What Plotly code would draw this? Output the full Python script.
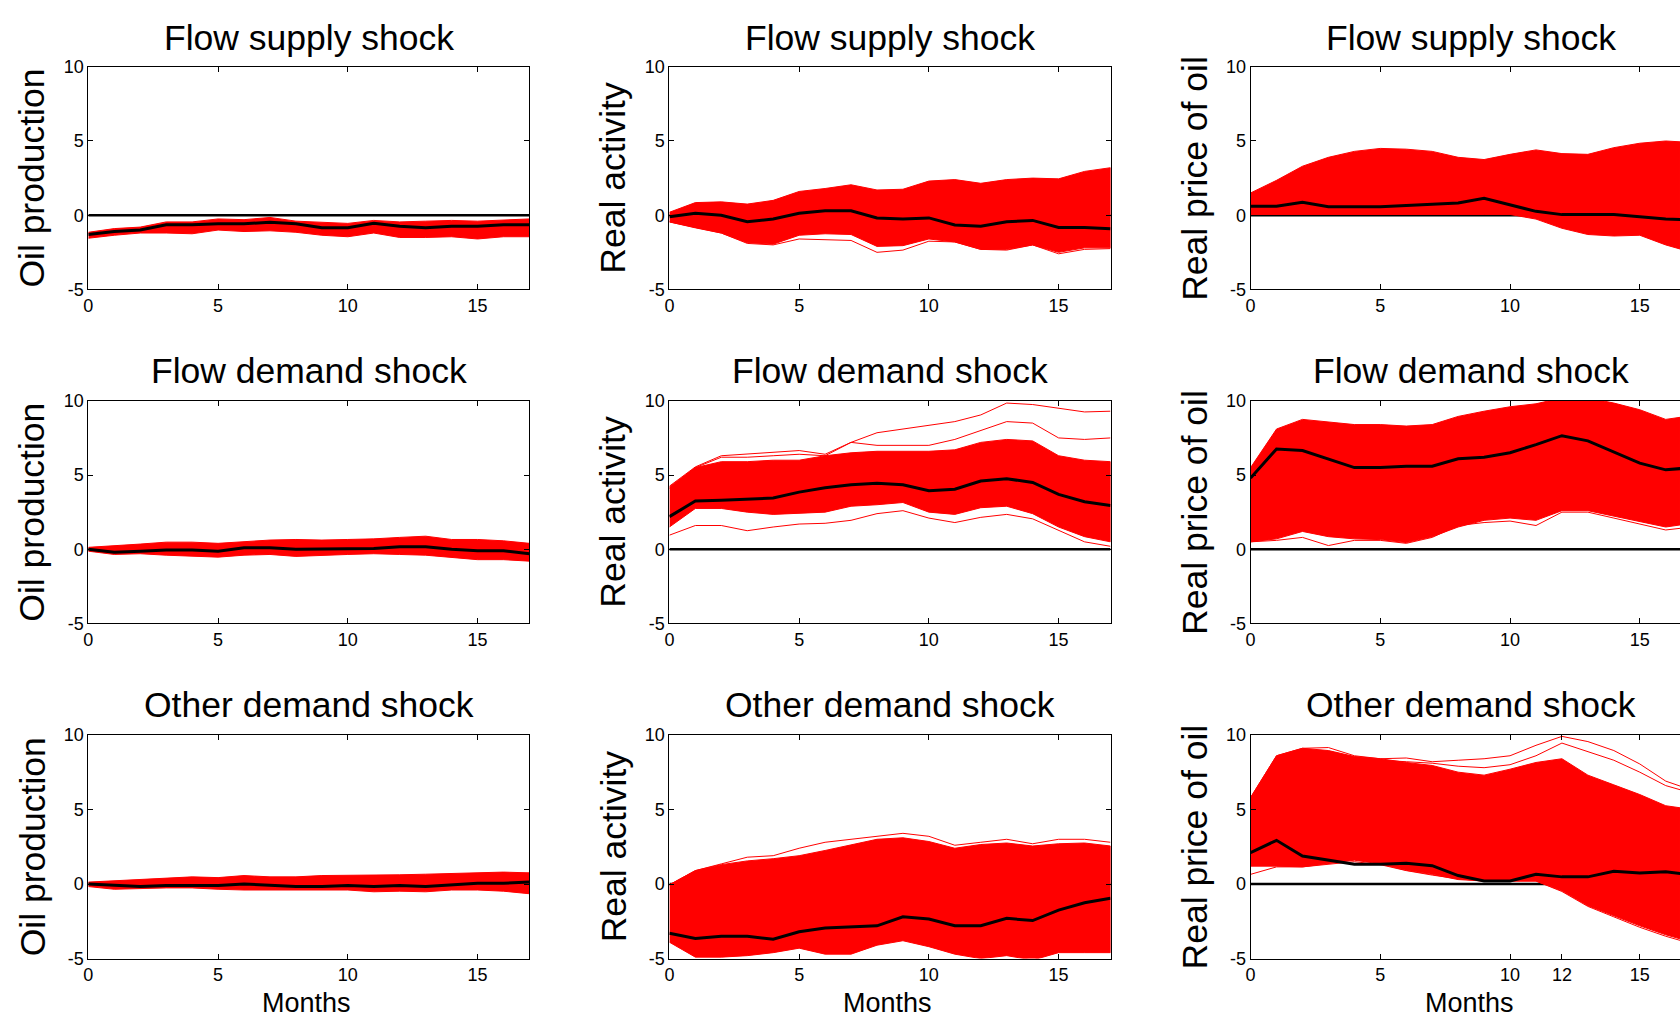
import plotly.graph_objects as go

# ---------------- data ----------------
months = list(range(18))

# Row 1: Flow supply shock
op_sup_med = [-1.3, -1.1, -1.0, -0.65, -0.65, -0.57, -0.57, -0.48, -0.57, -0.85, -0.85, -0.55, -0.75, -0.85, -0.75, -0.75, -0.64, -0.64]
op_sup_hi = [-1.15, -0.9, -0.8, -0.45, -0.45, -0.25, -0.3, -0.15, -0.4, -0.5, -0.55, -0.35, -0.45, -0.4, -0.35, -0.4, -0.35, -0.25]
op_sup_lo = [-1.55, -1.35, -1.2, -1.2, -1.25, -1.0, -1.1, -1.05, -1.15, -1.35, -1.45, -1.2, -1.5, -1.5, -1.45, -1.6, -1.45, -1.45]

ra_sup_med = [-0.1, 0.13, 0.0, -0.44, -0.26, 0.13, 0.3, 0.3, -0.18, -0.26, -0.18, -0.66, -0.75, -0.44, -0.35, -0.83, -0.83, -0.92]
ra_sup_hi = [0.2, 0.85, 0.9, 0.75, 1.0, 1.6, 1.8, 2.05, 1.7, 1.75, 2.3, 2.4, 2.15, 2.4, 2.5, 2.45, 2.95, 3.2]
ra_sup_lo = [-0.45, -0.85, -1.2, -1.85, -1.95, -1.35, -1.25, -1.3, -2.1, -2.05, -1.6, -1.8, -2.3, -2.3, -2.0, -2.5, -2.2, -2.2]
ra_sup_out1 = [-0.45, -0.85, -1.2, -1.9, -2.0, -1.6, -1.65, -1.7, -2.5, -2.35, -1.75, -1.8, -2.3, -2.35, -2.0, -2.6, -2.3, -2.25]

rp_sup_med = [0.6, 0.6, 0.88, 0.57, 0.57, 0.57, 0.65, 0.75, 0.83, 1.14, 0.7, 0.26, 0.04, 0.04, 0.04, -0.1, -0.26, -0.3]
rp_sup_hi = [1.5, 2.35, 3.3, 3.9, 4.3, 4.5, 4.45, 4.3, 3.9, 3.75, 4.1, 4.4, 4.15, 4.1, 4.55, 4.85, 5.0, 4.9]
rp_sup_lo = [0.05, 0.05, 0.05, 0.05, 0.05, 0.05, 0.05, 0.05, 0.05, 0.05, 0.05, -0.26, -0.88, -1.3, -1.4, -1.35, -2.0, -2.5]

# Row 2: Flow demand shock
op_fd_med = [0.0, -0.2, -0.13, -0.05, -0.05, -0.13, 0.1, 0.1, 0.0, 0.0, 0.05, 0.05, 0.17, 0.17, 0.0, -0.1, -0.1, -0.3]
op_fd_hi = [0.13, 0.22, 0.35, 0.48, 0.48, 0.4, 0.5, 0.62, 0.66, 0.62, 0.66, 0.7, 0.8, 0.88, 0.66, 0.66, 0.57, 0.4]
op_fd_lo = [-0.13, -0.35, -0.3, -0.4, -0.48, -0.53, -0.4, -0.35, -0.48, -0.44, -0.35, -0.3, -0.35, -0.4, -0.57, -0.7, -0.7, -0.8]

ra_fd_med = [2.2, 3.25, 3.3, 3.35, 3.45, 3.85, 4.15, 4.35, 4.45, 4.35, 3.95, 4.05, 4.6, 4.75, 4.5, 3.7, 3.2, 2.95]
ra_fd_hi = [4.2, 5.5, 5.9, 5.9, 6.0, 6.0, 6.3, 6.5, 6.6, 6.6, 6.6, 6.7, 7.2, 7.4, 7.3, 6.3, 6.0, 5.9]
ra_fd_lo = [1.5, 2.75, 2.75, 2.5, 2.35, 2.4, 2.5, 2.9, 3.0, 3.15, 2.5, 2.35, 2.8, 2.9, 2.4, 1.5, 0.85, 0.5]
ra_fd_out1 = [4.25, 5.55, 6.3, 6.4, 6.55, 6.65, 6.4, 7.2, 7.85, 8.1, 8.35, 8.6, 9.05, 9.85, 9.75, 9.5, 9.25, 9.3]
ra_fd_out2 = [4.1, 5.5, 6.2, 6.2, 6.3, 6.4, 6.3, 7.2, 7.0, 7.0, 7.0, 7.4, 8.0, 8.6, 8.5, 7.5, 7.4, 7.5]
ra_fd_out3 = [0.95, 1.6, 1.6, 1.25, 1.5, 1.7, 1.75, 1.95, 2.4, 2.6, 2.1, 1.8, 2.15, 2.35, 2.05, 1.3, 0.5, 0.2]

rp_fd_med = [4.8, 6.75, 6.65, 6.1, 5.5, 5.5, 5.6, 5.6, 6.1, 6.2, 6.5, 7.05, 7.65, 7.3, 6.55, 5.8, 5.35, 5.5]
rp_fd_hi = [5.5, 8.1, 8.75, 8.55, 8.4, 8.4, 8.3, 8.4, 8.95, 9.3, 9.6, 9.8, 10.2, 10.2, 9.85, 9.4, 8.75, 9.0]
rp_fd_lo = [0.5, 0.7, 1.2, 0.85, 0.7, 0.65, 0.45, 0.85, 1.5, 1.95, 2.1, 1.95, 2.6, 2.6, 2.2, 1.85, 1.5, 1.75]
rp_fd_out1 = [0.5, 0.6, 0.8, 0.25, 0.6, 0.6, 0.4, 0.8, 1.6, 1.8, 1.9, 1.6, 2.5, 2.5, 2.1, 1.7, 1.3, 1.5]

# Row 3: Other demand shock
op_od_med = [0.0, -0.1, -0.17, -0.1, -0.1, -0.1, 0.0, -0.1, -0.17, -0.17, -0.1, -0.17, -0.1, -0.17, -0.05, 0.05, 0.05, 0.13]
op_od_hi = [0.13, 0.22, 0.3, 0.43, 0.48, 0.43, 0.57, 0.48, 0.48, 0.57, 0.57, 0.57, 0.62, 0.66, 0.7, 0.75, 0.8, 0.75]
op_od_lo = [-0.17, -0.35, -0.3, -0.26, -0.26, -0.35, -0.4, -0.4, -0.45, -0.4, -0.4, -0.52, -0.48, -0.52, -0.4, -0.4, -0.48, -0.65]

ra_od_med = [-3.3, -3.65, -3.5, -3.5, -3.7, -3.2, -2.95, -2.9, -2.8, -2.2, -2.35, -2.8, -2.8, -2.3, -2.45, -1.75, -1.25, -0.95]
ra_od_hi = [-0.05, 0.9, 1.3, 1.55, 1.7, 1.9, 2.25, 2.65, 3.0, 3.1, 2.85, 2.4, 2.65, 2.75, 2.55, 2.7, 2.75, 2.55]
ra_od_lo = [-3.9, -4.9, -4.9, -4.8, -4.6, -4.3, -4.7, -4.7, -4.1, -3.8, -4.2, -4.7, -5.0, -4.8, -5.1, -4.6, -4.6, -4.6]
ra_od_out1 = [-0.05, 0.9, 1.35, 1.8, 1.9, 2.4, 2.8, 3.0, 3.15, 3.4, 3.2, 2.6, 2.8, 3.0, 2.7, 3.0, 3.0, 2.8]

rp_od_med = [2.1, 2.93, 1.88, 1.58, 1.33, 1.33, 1.4, 1.23, 0.57, 0.2, 0.2, 0.66, 0.48, 0.48, 0.85, 0.74, 0.83, 0.6]
rp_od_hi = [5.8, 8.6, 9.1, 8.95, 8.55, 8.4, 8.15, 7.95, 7.5, 7.3, 7.7, 8.15, 8.4, 7.3, 6.65, 6.0, 5.25, 5.0]
rp_od_lo = [1.2, 1.2, 1.15, 1.4, 1.6, 1.35, 0.92, 0.65, 0.3, 0.2, 0.2, 0.2, -0.45, -1.45, -2.1, -2.8, -3.4, -3.9]
rp_od_out1 = [5.8, 8.6, 9.1, 9.15, 8.6, 8.4, 8.45, 8.2, 8.3, 8.4, 8.6, 9.3, 9.9, 9.55, 8.95, 8.05, 6.9, 6.3]
rp_od_out2 = [5.6, 8.4, 8.9, 8.9, 8.5, 8.3, 8.2, 8.1, 7.9, 7.8, 8.0, 8.6, 9.45, 8.9, 8.3, 7.5, 6.6, 6.1]
rp_od_out3 = [0.65, 1.15, 1.15, 1.35, 1.5, 1.3, 0.9, 0.6, 0.35, 0.2, 0.2, 0.2, -0.5, -1.5, -2.2, -2.9, -3.5, -4.0]

row_titles = ["Flow supply shock", "Flow demand shock", "Other demand shock"]
col_labels = ["Oil production", "Real activity", "Real price of oil"]
y_ticks = [-5, 0, 5, 10]
x_ticks = [0, 5, 10, 15]
x_ticks_special = [0, 5, 10, 12, 15]
x_label = "Months"

panels = [
    [(op_sup_med, op_sup_hi, op_sup_lo, []),
     (ra_sup_med, ra_sup_hi, ra_sup_lo, [ra_sup_out1]),
     (rp_sup_med, rp_sup_hi, rp_sup_lo, [])],
    [(op_fd_med, op_fd_hi, op_fd_lo, []),
     (ra_fd_med, ra_fd_hi, ra_fd_lo, [ra_fd_out1, ra_fd_out2, ra_fd_out3]),
     (rp_fd_med, rp_fd_hi, rp_fd_lo, [rp_fd_out1])],
    [(op_od_med, op_od_hi, op_od_lo, []),
     (ra_od_med, ra_od_hi, ra_od_lo, [ra_od_out1]),
     (rp_od_med, rp_od_hi, rp_od_lo, [rp_od_out1, rp_od_out2, rp_od_out3])],
]

# ---------------- layout geometry (pixels) ----------------
W, H = 1680, 1025
col_left = [83.6, 666.4, 1249.3]
unit_px = (526.0 - 83.6) / 17.0
row_top = [57.9, 398.6, 739.3]
row_bot = [285.0, 625.7, 967.5]
title_y = [29, 368.6, 709]

FONT = "Arial, Liberation Sans, sans-serif"
RED = "#ff0000"

fig = go.Figure()
layout = dict(
    width=W, height=H,
    margin=dict(l=0, r=0, t=0, b=0),
    paper_bgcolor="white", plot_bgcolor="white",
    showlegend=False,
    font=dict(family=FONT, color="black"),
)
annotations = []

for r in range(3):
    for c in range(3):
        idx = r * 3 + c + 1
        xa = "x" if idx == 1 else f"x{idx}"
        ya = "y" if idx == 1 else f"y{idx}"
        xkey = "xaxis" if idx == 1 else f"xaxis{idx}"
        ykey = "yaxis" if idx == 1 else f"yaxis{idx}"

        med, hi, lo, outs = panels[r][c]

        # zero line
        fig.add_trace(go.Scatter(x=[months[0], months[-1]], y=[0, 0], mode="lines",
                                 line=dict(color="black", width=2.5), xaxis=xa, yaxis=ya,
                                 hoverinfo="skip"))
        # red band of draws
        fig.add_trace(go.Scatter(x=months + months[::-1], y=hi + lo[::-1], mode="lines",
                                 fill="toself", fillcolor=RED,
                                 line=dict(color=RED, width=1), xaxis=xa, yaxis=ya,
                                 hoverinfo="skip"))
        for o in outs:
            fig.add_trace(go.Scatter(x=months, y=o, mode="lines",
                                     line=dict(color=RED, width=1), xaxis=xa, yaxis=ya,
                                     hoverinfo="skip"))
        # median response
        fig.add_trace(go.Scatter(x=months, y=med, mode="lines",
                                 line=dict(color="black", width=3), xaxis=xa, yaxis=ya,
                                 hoverinfo="skip"))

        x0 = col_left[c]
        x1 = min(x0 + 17 * unit_px, W)
        xmax = (x1 - x0) / unit_px
        dom_x = [x0 / W, x1 / W]
        dom_y = [1 - row_bot[r] / H, 1 - row_top[r] / H]
        tv = x_ticks_special if (r == 2 and c == 2) else x_ticks

        layout[xkey] = dict(
            domain=dom_x, range=[0, xmax], anchor=ya,
            tickmode="array", tickvals=tv, ticktext=[str(v) for v in tv],
            ticks="inside", ticklen=5, tickcolor="black", tickwidth=1,
            showline=True, linecolor="black", linewidth=1, mirror="allticks",
            showgrid=False, zeroline=False,
            tickfont=dict(family=FONT, size=18, color="black"),
            fixedrange=True,
        )
        layout[ykey] = dict(
            domain=dom_y, range=[-5, 10], anchor=xa,
            tickmode="array", tickvals=y_ticks, ticktext=[str(v) for v in y_ticks],
            ticks="inside", ticklen=5, tickcolor="black", tickwidth=1,
            showline=True, linecolor="black", linewidth=1,
            mirror=("allticks" if c < 2 else False),
            showgrid=False, zeroline=False,
            tickfont=dict(family=FONT, size=18, color="black"),
            fixedrange=True,
        )

        center_x = (x0 + x0 + 17 * unit_px) / 2
        # panel title
        annotations.append(dict(
            text=row_titles[r], xref="paper", yref="paper",
            x=center_x / W, y=1 - title_y[r] / H, xanchor="center", yanchor="middle",
            showarrow=False, font=dict(family=FONT, size=35.5, color="black")))
        # y label
        annotations.append(dict(
            text=col_labels[c], xref="paper", yref="paper",
            x=(x0 - 56) / W, y=1 - (row_top[r] + row_bot[r]) / 2 / H,
            xanchor="center", yanchor="middle", textangle=-90,
            showarrow=False, font=dict(family=FONT, size=35.5, color="black")))
        if r == 2:
            annotations.append(dict(
                text=x_label, xref="paper", yref="paper",
                x=(center_x - 2) / W, y=1 - 1012.5 / H, xanchor="center", yanchor="middle",
                showarrow=False, font=dict(family=FONT, size=27, color="black")))

layout["annotations"] = annotations
fig.update_layout(**layout)
fig.write_html(
    "out.html",
    config={"displayModeBar": False, "staticPlot": True},
    post_script=("document.body.style.margin='0px';"
                 "document.body.style.padding='0px';"
                 "document.body.style.overflow='hidden';"
                 "document.documentElement.style.overflow='hidden';"),
)
